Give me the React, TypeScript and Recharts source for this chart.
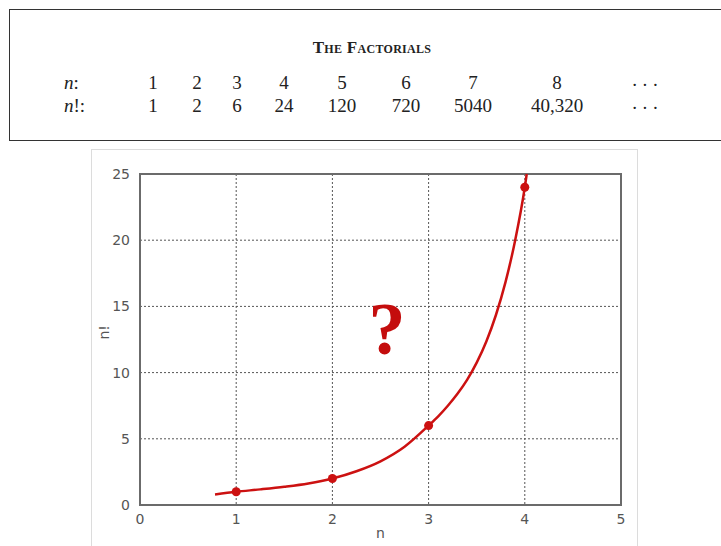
import {
  ComposedChart,
  Line,
  Scatter,
  XAxis,
  YAxis,
  CartesianGrid,
  ReferenceArea,
} from "recharts";

// table
const nLabels = ["1", "2", "3", "4", "5", "6", "7", "8"];
const factLabels = ["1", "2", "6", "24", "120", "720", "5040", "40,320"];
const colCenters = [153, 197, 237, 284, 342, 406, 473, 557];

// chart
const pointN = [1, 2, 3, 4];
const pointV = [1, 2, 6, 24];
// smooth curve
const curveN = [
  0.78, 1, 1.25, 1.5, 1.75, 2, 2.25, 2.5, 2.75, 3, 3.1, 3.2, 3.3, 3.4, 3.5,
  3.6, 3.7, 3.8, 3.9, 4, 4.02,
];
const curveV = [
  0.8, 1, 1.18, 1.38, 1.63, 2, 2.55, 3.3, 4.4, 6, 6.7, 7.5, 8.4, 9.45, 10.75,
  12.35, 14.35, 16.85, 20, 24, 25,
];
const xTicks = [0, 1, 2, 3, 4, 5];
const yTicks = [0, 5, 10, 15, 20, 25];

const curveData = curveN.map((n, i) => ({ n, v: curveV[i] }));
const pointData = pointN.map((n, i) => ({ n, v: pointV[i] }));

const serif = "'Liberation Serif', 'DejaVu Serif', serif";
const axisGray = "#6b6b6b";
const red = "#cc1111";
const tickStyle = { fill: "#555", fontSize: 14, fontFamily: "DejaVu Sans" };

export default function App() {
  return (
    <div
      style={{
        position: "absolute",
        left: 0,
        top: 0,
        width: 721,
        height: 546,
        background: "#fff",
        overflow: "hidden",
      }}
    >
      {/* table box */}
      <div
        style={{
          position: "absolute",
          left: 9,
          top: 9,
          width: 730,
          height: 132,
          border: "1.5px solid #333",
          boxSizing: "border-box",
        }}
      />
      <div
        style={{
          position: "absolute",
          left: 272,
          width: 200,
          top: 38,
          textAlign: "center",
          fontFamily: serif,
          fontSize: 17,
          fontVariant: "small-caps",
          fontWeight: "bold",
          color: "#222",
          letterSpacing: 0.3,
        }}
      >
        The Factorials
      </div>
      {[
        { label: "n", suffix: ":", vals: nLabels, y: 72 },
        { label: "n", suffix: "!:", vals: factLabels, y: 95 },
      ].map((row, r) => (
        <div key={r}>
          <div
            style={{
              position: "absolute",
              left: 64,
              top: row.y,
              fontFamily: serif,
              fontSize: 19,
              color: "#222",
            }}
          >
            <i>{row.label}</i>
            {row.suffix}
          </div>
          {row.vals.map((v, i) => (
            <div
              key={i}
              style={{
                position: "absolute",
                left: colCenters[i] - 40,
                width: 80,
                top: row.y,
                textAlign: "center",
                fontFamily: serif,
                fontSize: 19,
                color: "#222",
              }}
            >
              {v}
            </div>
          ))}
          <div
            style={{
              position: "absolute",
              left: 617,
              width: 60,
              top: row.y + 2,
              textAlign: "center",
              fontFamily: serif,
              fontSize: 19,
              letterSpacing: 4,
              color: "#222",
            }}
          >
            ···
          </div>
        </div>
      ))}

      {/* chart frame */}
      <div
        style={{
          position: "absolute",
          left: 91,
          top: 149,
          width: 547,
          height: 420,
          border: "1px solid #dcdcdc",
          boxSizing: "border-box",
        }}
      />
      <div style={{ position: "absolute", left: 92, top: 150 }}>
        <ComposedChart
          width={546}
          height={396}
          margin={{ top: 24, right: 17, bottom: 5, left: 8 }}
        >
          <CartesianGrid stroke="#555" strokeDasharray="2 2" strokeWidth={1} />
          <XAxis
            type="number"
            dataKey="n"
            domain={[0, 5]}
            ticks={xTicks}
            height={36}
            axisLine={{ stroke: axisGray, strokeWidth: 2 }}
            tickLine={false}
            tickMargin={3}
            tick={tickStyle}
            label={{
              value: "n",
              position: "insideBottom",
              offset: 3,
              ...tickStyle,
            }}
          />
          <YAxis
            type="number"
            dataKey="v"
            domain={[0, 25]}
            ticks={yTicks}
            width={40}
            axisLine={{ stroke: axisGray, strokeWidth: 2 }}
            tickLine={false}
            tickMargin={4}
            tick={tickStyle}
            label={{
              value: "n!",
              angle: -90,
              position: "insideLeft",
              offset: 4,
              ...tickStyle,
            }}
          />
          <ReferenceArea
            x1={0}
            x2={5}
            y1={0}
            y2={25}
            fill="none"
            stroke={axisGray}
            strokeWidth={2}
            ifOverflow="visible"
          />
          <Line
            data={curveData}
            type="monotone"
            dataKey="v"
            stroke={red}
            strokeWidth={2.5}
            dot={false}
            isAnimationActive={false}
          />
          <Scatter
            data={pointData}
            dataKey="v"
            fill={red}
            shape={(p: any) => <circle cx={p.cx} cy={p.cy} r={4.5} fill={red} />}
            isAnimationActive={false}
          />
        </ComposedChart>
      </div>
      <div
        style={{
          position: "absolute",
          left: 352,
          width: 70,
          top: 292,
          textAlign: "center",
          fontFamily: serif,
          fontWeight: "bold",
          fontSize: 74,
          lineHeight: "74px",
          color: "#c40d0d",
        }}
      >
        ?
      </div>
    </div>
  );
}
